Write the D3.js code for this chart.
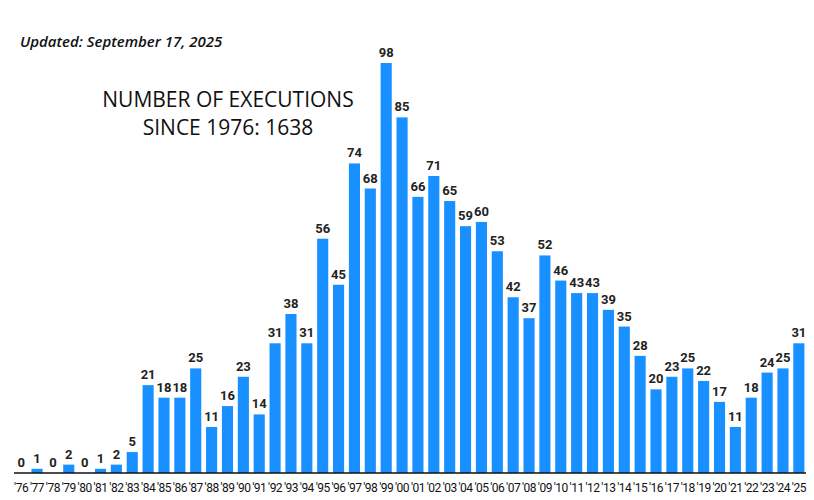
<!DOCTYPE html>
<html><head><meta charset="utf-8">
<script src="https://cdn.jsdelivr.net/npm/d3@7"></script>
<style>body{margin:0;background:#fff}</style>
</head><body><div id="chart"></div>
<script>
// data
var years = ["76","77","78","79","80","81","82","83","84","85","86","87","88","89","90","91","92","93","94","95",
  "96","97","98","99","00","01","02","03","04","05","06","07","08","09","10","11","12","13","14","15",
  "16","17","18","19","20","21","22","23","24","25"];
var executions = [0,1,0,2,0,1,2,5,21,18,18,25,11,16,23,14,31,38,31,56,
  45,74,68,98,85,66,71,65,59,60,53,42,37,52,46,43,43,39,35,28,
  20,23,25,22,17,11,18,24,25,31];

var width = 814, height = 500;
var baseY = 473;

var svg = d3.select("#chart").append("svg")
    .attr("width", width).attr("height", height);

var x = d3.scaleBand().domain(years).range([14, 806]).paddingInner(0.3).paddingOuter(0.1);
var y = d3.scaleLinear().domain([0, 98]).range([baseY, 63]);

svg.selectAll("rect.bar").data(executions).enter().append("rect")
    .attr("class", "bar")
    .attr("x", function(d, i) { return x(years[i]); })
    .attr("y", function(d) { return y(d); })
    .attr("width", x.bandwidth())
    .attr("height", function(d) { return baseY - y(d); })
    .style("fill", "#1890ff");

svg.selectAll("text.val").data(executions).enter().append("text")
    .attr("x", function(d, i) { return x(years[i]) + x.bandwidth() / 2; })
    .attr("y", function(d) { return y(d) - 6; })
    .attr("text-anchor", "middle")
    .style("font", "bold 13px Roboto, sans-serif")
    .style("fill", "#222")
    .text(function(d) { return d; });

// axis line
svg.append("line")
    .attr("x1", 14).attr("x2", 806).attr("y1", baseY).attr("y2", baseY)
    .style("stroke", "#111").style("stroke-width", 1.5);

svg.selectAll("text.yr").data(years).enter().append("text")
    .attr("x", function(d) { return x(d) + x.bandwidth() / 2; })
    .attr("y", 492)
    .attr("text-anchor", "middle")
    .style("font", "12px Roboto, sans-serif")
    .style("letter-spacing", "-0.5px")
    .style("fill", "#111")
    .text(function(d) { return "'" + d; });

svg.append("text")
    .attr("x", 20).attr("y", 47)
    .style("font", "italic 600 15px 'Open Sans', sans-serif")
    .style("fill", "#111")
    .text("Updated: September 17, 2025");

svg.append("text").attr("x", 228).attr("y", 107).attr("text-anchor", "middle")
    .style("font", "500 21px 'Open Sans', sans-serif").style("fill", "#111")
    .text("NUMBER OF EXECUTIONS");
svg.append("text").attr("x", 228).attr("y", 135).attr("text-anchor", "middle")
    .style("font", "500 21px 'Open Sans', sans-serif").style("fill", "#111")
    .text("SINCE 1976: 1638");
</script></body></html>
